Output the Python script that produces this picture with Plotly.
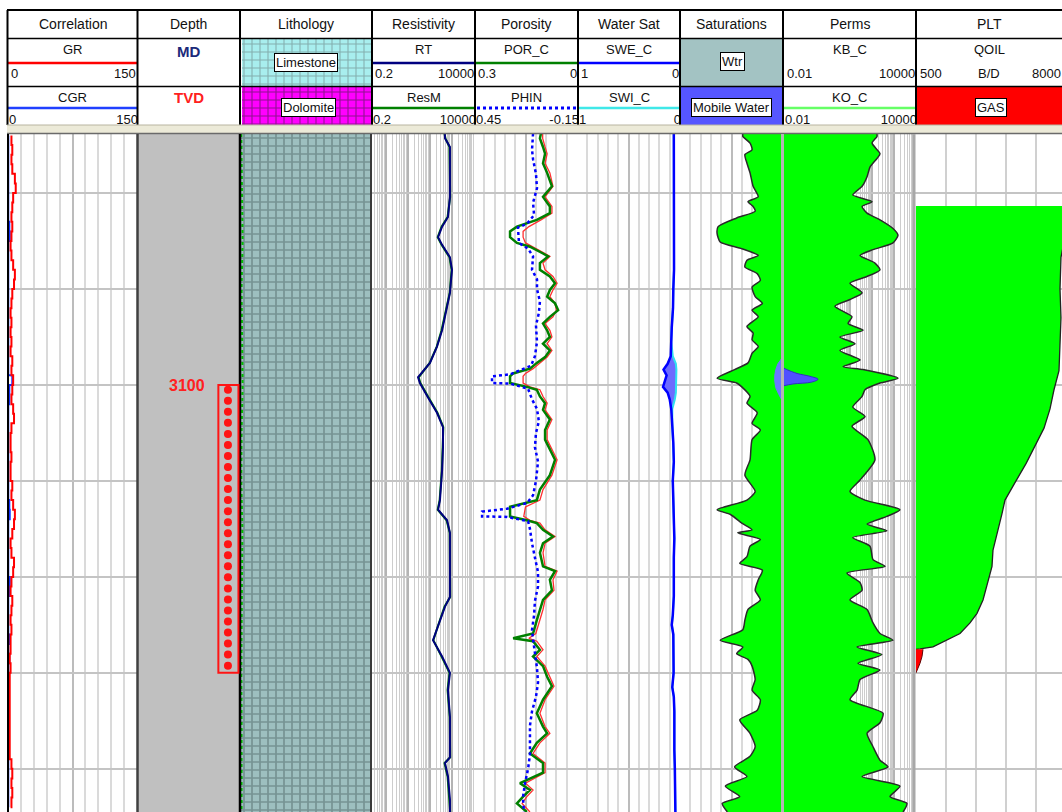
import math
import plotly.graph_objects as go

# ---------------- data (depth in m) ----------------
TOP_DEPTH = 3073.85
BASE_DEPTH = 3144.5

# Correlation track
gr_depth = list(range(3074, 3145))
gr = [4, 5, 4, 5, 8, 9, 6, 5, 4, 5,
      4, 3, 4, 6, 8, 7, 5, 4, 3, 4,
      3, 4, 3, 5, 4, 6, 5, 4, 6, 7,
      4, 3, 3, 4, 3, 3, 5, 4, 6, 8,
      7, 5, 3, 4, 7, 6, 4, 3, 5, 4,
      3, 4, 3, 3, 2, 3, 2, 2, 2, 2,
      2, 2, 2, 2, 2, 4, 5, 4, 5, 4,
      3]
cgr = [0.3, 0.3, 0.3, 0.3, 0.3, 0.3, 0.3, 0.3, 0.3, 1.5,
       2.0, 0.3, 0.3, 0.3, 0.3, 0.3, 0.3, 0.3, 0.3, 0.3,
       0.3, 0.3, 0.3, 0.3, 0.3, 5.0, 1.5, 1.5, 0.3, 0.3,
       0.3, 0.3, 0.3, 0.3, 0.3, 0.3, 0.3, 0.3, 1.5, 2.0,
       0.3, 0.3, 0.3, 0.3, 0.3, 0.3, 2.0, 1.5, 0.3, 0.3,
       0.3, 0.3, 1.5, 0.3, 1.5, 0.3, 0.3, 0.3, 0.3, 0.3,
       0.3, 0.3, 0.3, 0.3, 0.3, 0.3, 0.3, 0.3, 0.3, 0.3,
       0.3]

# Depth track: perforated interval
perf_top = 3100
perf_base = 3130
perf_shots = [3100.5, 3101.65, 3102.8, 3103.95, 3105.1, 3106.25, 3107.4, 3108.55,
              3109.7, 3110.85, 3112.0, 3113.15, 3114.3, 3115.45, 3116.6, 3117.75,
              3118.9, 3120.05, 3121.2, 3122.35, 3123.5, 3124.65, 3125.8, 3126.95,
              3128.1, 3129.25]

# Lithology track
lith_depth = [TOP_DEPTH, BASE_DEPTH]
limestone_frac = [1.0, 1.0]
lith_curve_depth = [3073.85, 3080, 3085, 3090, 3095, 3100, 3105, 3110, 3115, 3120,
                    3125, 3130, 3135, 3140, 3144.5]
lith_curve = [0.01, 0.015, 0.02, 0.012, 0.015, 0.02, 0.012, 0.01, 0.018, 0.015,
              0.012, 0.01, 0.012, 0.01, 0.012]

# Resistivity track
rt_depth = [3073.8, 3074.3, 3075.2, 3077.6, 3080.4, 3082.5, 3083.5, 3084.6, 3085.4, 3086.7,
            3088.0, 3090.4, 3091.9, 3094.3, 3096.0, 3097.7, 3099.2, 3099.8, 3101.3, 3102.9,
            3104.4, 3106.5, 3108.9, 3112.0, 3113.0, 3114.1, 3115.4, 3122.1, 3123.1, 3125.2,
            3126.6, 3128.3, 3130.0, 3131.8, 3134.6, 3138.8, 3139.4, 3140.8, 3143.2, 3144.5]
rt = [470, 475, 800, 800, 800, 650, 350, 230, 350, 800,
      990, 800, 590, 350, 205, 98, 28, 34, 80, 205,
      385, 385, 350, 280, 230, 590, 800, 800, 475, 230,
      135, 350, 800, 650, 800, 800, 475, 650, 800, 800]
resm = [450, 500, 760, 780, 820, 620, 330, 220, 330, 760,
        950, 780, 560, 330, 200, 95, 30, 36, 85, 215,
        400, 370, 340, 270, 220, 560, 780, 820, 450, 220,
        140, 330, 760, 620, 780, 820, 450, 620, 780, 820]

# Porosity track
por_depth = [3073.8, 3074.3, 3075.2, 3075.9, 3076.9, 3077.9, 3079.3, 3080.4, 3081.4, 3082.1,
             3082.8, 3083.5, 3084.0, 3084.6, 3085.2, 3085.6, 3086.3, 3086.6, 3087.3, 3088.0,
             3088.7, 3089.4, 3090.1, 3090.8, 3091.5, 3092.2, 3092.9, 3093.6, 3094.3, 3095.0,
             3095.7, 3096.4, 3097.1, 3097.7, 3098.3, 3098.8, 3099.1, 3099.8, 3100.2, 3100.5,
             3101.2, 3101.9, 3102.6, 3103.6, 3104.7, 3105.7, 3107.8, 3109.4, 3110.9, 3112.0,
             3112.7, 3113.7, 3114.1, 3114.4, 3115.1, 3115.8, 3116.5, 3117.5, 3118.9, 3119.4,
             3120.3, 3121.4, 3122.4, 3123.4, 3124.5, 3125.9, 3126.4, 3126.7, 3127.6, 3128.3,
             3129.3, 3130.4, 3131.4, 3132.8, 3134.2, 3135.6, 3136.3, 3137.3, 3138.4, 3139.4,
             3140.4, 3141.5, 3142.2, 3142.9, 3143.6, 3144.5]
por_c = [0.105, 0.108, 0.099, 0.093, 0.099, 0.087, 0.073, 0.099, 0.079, 0.079,
         0.117, 0.175, 0.195, 0.195, 0.175, 0.137, 0.099, 0.084, 0.108, 0.108,
         0.079, 0.064, 0.079, 0.087, 0.064, 0.055, 0.079, 0.099, 0.087, 0.079,
         0.099, 0.079, 0.093, 0.117, 0.137, 0.186, 0.195, 0.195, 0.146, 0.117,
         0.108, 0.093, 0.099, 0.079, 0.093, 0.093, 0.064, 0.079, 0.108, 0.117,
         0.195, 0.195, 0.146, 0.117, 0.099, 0.070, 0.099, 0.108, 0.099, 0.064,
         0.079, 0.073, 0.099, 0.108, 0.117, 0.128, 0.186, 0.128, 0.108, 0.128,
         0.099, 0.087, 0.073, 0.099, 0.117, 0.099, 0.087, 0.117, 0.137, 0.099,
         0.099, 0.166, 0.137, 0.157, 0.175, 0.146]
por_red = [0.100, 0.100, 0.093, 0.087, 0.093, 0.079, 0.070, 0.093, 0.073, 0.073,
           0.105, 0.140, 0.157, 0.157, 0.150, 0.128, 0.093, 0.079, 0.099, 0.093,
           0.070, 0.058, 0.070, 0.079, 0.064, 0.060, 0.070, 0.093, 0.079, 0.073,
           0.087, 0.073, 0.087, 0.108, 0.128, 0.150, 0.157, 0.157, 0.137, 0.108,
           0.099, 0.087, 0.093, 0.073, 0.087, 0.087, 0.058, 0.073, 0.099, 0.108,
           0.150, 0.155, 0.137, 0.108, 0.093, 0.064, 0.093, 0.099, 0.093, 0.058,
           0.070, 0.067, 0.093, 0.099, 0.108, 0.120, 0.140, 0.117, 0.099, 0.117,
           0.093, 0.079, 0.067, 0.093, 0.108, 0.093, 0.079, 0.108, 0.128, 0.093,
           0.093, 0.150, 0.128, 0.146, 0.160, 0.137]
phin_depth = [3073.8, 3075.5, 3076.5, 3078.0, 3079.5, 3081.0, 3082.3, 3083.2, 3083.6, 3085.2,
              3085.8, 3086.6, 3088.0, 3089.0, 3090.0, 3091.3, 3092.5, 3093.8, 3095.5, 3097.0,
              3098.0, 3098.9, 3099.1, 3099.8, 3099.85, 3100.4, 3101.5, 3102.5, 3103.8, 3105.0,
              3106.5, 3108.0, 3110.0, 3111.5, 3112.3, 3112.9, 3113.2, 3113.7, 3113.75, 3114.2,
              3115.0, 3116.5, 3118.0, 3119.5, 3121.0, 3122.5, 3124.0, 3125.5, 3126.5, 3128.0,
              3129.5, 3131.0, 3132.5, 3134.0, 3135.5, 3137.0, 3138.5, 3140.0, 3141.5, 3143.0,
              3144.5]
phin = [0.106, 0.112, 0.106, 0.089, 0.083, 0.106, 0.100, 0.141, 0.194, 0.188,
        0.135, 0.106, 0.112, 0.083, 0.083, 0.066, 0.072, 0.089, 0.083, 0.095,
        0.118, 0.240, 0.345, 0.345, 0.240, 0.135, 0.112, 0.083, 0.072, 0.089,
        0.095, 0.077, 0.089, 0.106, 0.141, 0.258, 0.403, 0.403, 0.258, 0.135,
        0.124, 0.112, 0.095, 0.077, 0.077, 0.095, 0.100, 0.112, 0.106, 0.095,
        0.083, 0.077, 0.089, 0.112, 0.124, 0.124, 0.124, 0.135, 0.153, 0.165,
        0.159]

# Water saturation track
sw_depth = [3073.85, 3076, 3078, 3080, 3082, 3084, 3086, 3088, 3090, 3092,
            3094, 3095.5, 3097, 3097.8, 3098.4, 3099.0, 3099.6, 3100.2, 3100.8, 3101.5,
            3102.5, 3104, 3106, 3108, 3110, 3112, 3114, 3116, 3118, 3120,
            3122, 3124, 3125, 3126, 3128, 3130, 3131.5, 3132.5, 3134, 3136,
            3138, 3140, 3142, 3144.5]
swe_c = [0.06, 0.06, 0.055, 0.06, 0.058, 0.06, 0.062, 0.058, 0.065, 0.068,
         0.08, 0.085, 0.09, 0.12, 0.16, 0.13, 0.15, 0.165, 0.12, 0.10,
         0.085, 0.075, 0.065, 0.06, 0.07, 0.065, 0.06, 0.055, 0.06, 0.058,
         0.06, 0.07, 0.08, 0.065, 0.06, 0.062, 0.075, 0.06, 0.055, 0.058,
         0.055, 0.05, 0.045, 0.045]
swi_c = [0.06, 0.06, 0.055, 0.06, 0.058, 0.06, 0.062, 0.058, 0.065, 0.068,
         0.08, 0.085, 0.07, 0.04, 0.035, 0.035, 0.035, 0.035, 0.04, 0.05,
         0.075, 0.075, 0.065, 0.06, 0.07, 0.065, 0.06, 0.055, 0.06, 0.058,
         0.06, 0.07, 0.08, 0.065, 0.06, 0.062, 0.075, 0.06, 0.055, 0.058,
         0.055, 0.05, 0.045, 0.045]

# Saturations track
SAT_EDGE = 1.0
sat_depth = [3073.85, 3074.1, 3074.8, 3075.5, 3076.0, 3076.9, 3077.9, 3079.3, 3080.4, 3080.9,
             3081.4, 3081.9, 3082.6, 3083.5, 3084.2, 3085.1, 3085.8, 3086.5, 3087.0, 3087.7,
             3088.4, 3089.1, 3089.8, 3090.8, 3091.5, 3092.2, 3092.9, 3093.9, 3094.6, 3095.3,
             3096.0, 3096.7, 3097.7, 3098.4, 3099.3, 3099.8, 3100.2, 3101.2, 3101.9, 3102.9,
             3104.0, 3104.7, 3105.7, 3107.8, 3109.4, 3111.1, 3112.0, 3113.0, 3113.5, 3114.4,
             3115.1, 3115.4, 3116.1, 3116.8, 3117.9, 3118.6, 3119.3, 3120.3, 3121.4, 3122.4,
             3123.4, 3124.5, 3125.5, 3126.6, 3127.3, 3128.0, 3128.6, 3129.3, 3130.7, 3131.8,
             3132.8, 3133.9, 3134.9, 3136.3, 3137.7, 3138.7, 3139.8, 3140.8, 3141.8, 3142.9,
             3143.6, 3144.5]
sat_curve = [0.61, 0.61, 0.68, 0.70, 0.63, 0.65, 0.68, 0.71, 0.76, 0.66,
             0.71, 0.73, 0.55, 0.37, 0.36, 0.39, 0.60, 0.76, 0.65, 0.63,
             0.75, 0.78, 0.70, 0.73, 0.80, 0.70, 0.76, 0.65, 0.71, 0.70,
             0.76, 0.70, 0.66, 0.53, 0.36, 0.55, 0.60, 0.68, 0.65, 0.75,
             0.70, 0.78, 0.70, 0.68, 0.63, 0.73, 0.65, 0.36, 0.49, 0.60,
             0.70, 0.56, 0.78, 0.68, 0.65, 0.58, 0.80, 0.76, 0.73, 0.78,
             0.66, 0.63, 0.61, 0.39, 0.61, 0.55, 0.66, 0.70, 0.73, 0.70,
             0.78, 0.75, 0.58, 0.68, 0.73, 0.68, 0.53, 0.65, 0.44, 0.58,
             0.41, 0.46]
mw_sat_depth = [3097.2, 3097.8, 3098.4, 3099.0, 3099.6, 3100.3, 3101.0, 3101.6]
mw_sat = [0.99, 0.95, 0.93, 0.92, 0.92, 0.93, 0.96, 0.99]

# Perms track (mD)
PERM_EDGE = 0.01
perm_depth = [3073.85, 3074.1, 3074.8, 3075.9, 3076.4, 3077.3, 3078.3, 3079.3, 3080.2, 3080.9,
              3081.4, 3082.1, 3082.8, 3083.7, 3084.4, 3085.2, 3085.9, 3086.5, 3087.3, 3088.0,
              3088.7, 3089.4, 3090.4, 3091.1, 3091.8, 3092.9, 3093.6, 3094.3, 3095.0, 3095.7,
              3096.4, 3097.4, 3098.1, 3098.4, 3099.3, 3099.8, 3100.5, 3101.2, 3102.3, 3103.3,
              3104.3, 3105.7, 3107.8, 3109.9, 3111.1, 3112.0, 3113.0, 3113.7, 3114.5, 3115.2,
              3115.9, 3116.8, 3118.2, 3118.9, 3119.6, 3120.6, 3121.4, 3122.4, 3123.4, 3124.8,
              3125.9, 3126.6, 3127.3, 3128.1, 3129.0, 3129.7, 3130.7, 3131.8, 3132.8, 3134.2,
              3135.2, 3136.3, 3137.7, 3139.1, 3139.8, 3140.8, 3141.8, 3142.9, 3143.6, 3144.5]
kb_c = [174, 174, 104, 238, 174, 84, 62, 37, 14, 104,
        37, 62, 238, 917, 1540, 917, 115, 30, 141, 238,
        62, 10.5, 37, 10.5, 2.2, 13, 8.6, 41, 3.7, 17.7,
        3.7, 30, 5.1, 41, 1540, 238, 50, 37, 14, 50,
        13, 68, 141, 30, 10.5, 50, 1900, 490, 62, 490,
        14, 84, 115, 400, 7.7, 30, 37, 10.5, 62, 115,
        238, 917, 22, 290, 24, 238, 30, 22, 10.5, 325,
        238, 62, 115, 238, 546, 37, 1900, 670, 3900, 2600]
mw_perm_depth = [3098.2, 3098.4, 3098.8, 3099.1, 3099.4, 3099.7, 3099.9, 3100.1]
mw_perm = [0.01, 0.015, 0.043, 0.165, 0.38, 0.20, 0.028, 0.01]

# PLT track (B/D)
qoil_depth = [3081.35, 3084.0, 3086.7, 3090.0, 3093.0, 3096.0, 3098.5, 3100.5, 3102.5, 3104.5,
              3106.5, 3108.2, 3110.0, 3112.0, 3113.4, 3115.4, 3117.2, 3118.9, 3120.7, 3122.4,
              3123.8, 3124.8, 3125.9, 3126.6, 3127.3, 3127.5, 3127.55]
qoil = [8000, 8000, 7750, 7700, 7750, 7700, 7650, 7400, 7200, 6900,
        6400, 6000, 5500, 4950, 4800, 4550, 4350, 4300, 4050, 3850,
        3550, 3200, 2700, 2050, 1350, 700, 500]
gas_depth = [3127.55, 3128.3, 3129.0, 3129.6, 3130.0]
gas = [850, 800, 700, 600, 500]

# ---------------- layout helpers ----------------
W, H = 1062, 812
LOG_TOP = 134
FONT = "Liberation Sans, Arial, sans-serif"


def fx(p):
    return p / W


def fy(p):
    return 1 - p / H


tracks = {
    "corr": (1, 8, 137),
    "depth": (2, 137, 240),
    "lith": (3, 240, 371),
    "res": (4, 371, 474),
    "por": (5, 474, 577),
    "sw": (6, 577, 680),
    "sat": (7, 680, 783),
    "perm": (8, 783, 916),
    "plt": (9, 916, 1062),
}

MAJ = "#bcbcbc"
MIN = "#dadada"


def minor(dt, width=2):
    return dict(dtick=dt, tick0=0, showgrid=True, gridcolor=MIN, gridwidth=width)


xcfg = {
    "corr": dict(range=[0, 150], dtick=75, tick0=0, minor=minor(15)),
    "depth": dict(range=[0, 1], showgrid=False),
    "lith": dict(range=[0, 1], showgrid=False),
    "res": dict(type="log", range=[math.log10(0.2), 4], dtick=1, gridcolor="#b4b4b4",
                minor=dict(dtick="D1", showgrid=True, gridcolor="#cdcdcd", gridwidth=1)),
    "por": dict(range=[0.3, 0], dtick=0.15, tick0=0, minor=minor(0.03)),
    "sw": dict(range=[1, 0], dtick=0.5, tick0=0, minor=minor(0.1)),
    "sat": dict(range=[0, 1], dtick=0.5, tick0=0, minor=minor(0.1)),
    "perm": dict(type="log", range=[-2, 4], dtick=1, gridcolor="#b4b4b4",
                 minor=dict(dtick="D1", showgrid=True, gridcolor="#cdcdcd", gridwidth=1)),
    "plt": dict(range=[500, 7800], dtick=1500, tick0=500, gridcolor="#d0d0d0"),
}

layout = {}
for key, (n, left, right) in tracks.items():
    xn = "xaxis" if n == 1 else f"xaxis{n}"
    yn = "yaxis" if n == 1 else f"yaxis{n}"
    xa = dict(domain=[fx(left), fx(right)], anchor="y" if n == 1 else f"y{n}",
              showticklabels=False, ticks="", zeroline=False, showline=False,
              gridcolor=MAJ, gridwidth=2, fixedrange=True)
    xa.update(xcfg[key])
    layout[xn] = xa
    layout[yn] = dict(domain=[0, fy(LOG_TOP)], range=[BASE_DEPTH, TOP_DEPTH],
                      anchor="x" if n == 1 else f"x{n}", showticklabels=False, ticks="",
                      zeroline=False, showline=False, dtick=10, tick0=3080,
                      showgrid=key not in ("depth", "lith"), gridcolor="#c4c4c4",
                      gridwidth=2, fixedrange=True)

# second porosity scale for PHIN
layout["xaxis10"] = dict(domain=layout["xaxis5"]["domain"], range=[0.45, -0.15],
                         overlaying="x5", anchor="y5", showgrid=False, showticklabels=False,
                         ticks="", zeroline=False, fixedrange=True)
# pixel-space axis for the header block
layout["xaxis30"] = dict(domain=[0, 1], range=[0, W], anchor="y30", visible=False, fixedrange=True)
layout["yaxis30"] = dict(domain=[0, 1], range=[H, 0], anchor="x30", visible=False, fixedrange=True)

fig = go.Figure()


def sc(ax, **kw):
    n = tracks[ax][0]
    kw.setdefault("mode", "lines")
    kw.setdefault("hoverinfo", "skip")
    fig.add_trace(go.Scatter(xaxis="x" if n == 1 else f"x{n}",
                             yaxis="y" if n == 1 else f"y{n}", showlegend=False, **kw))


# Correlation
sc("corr", x=cgr, y=gr_depth, line=dict(color="#1030ff", width=2, shape="vh"))
sc("corr", x=gr, y=gr_depth, line=dict(color="#ff0000", width=2, shape="vh"))

# Depth: perforations
sc("depth", x=[0.883] * len(perf_shots), y=perf_shots, mode="markers",
   marker=dict(color="#ff1414", size=8))

# Lithology
sc("lith", x=limestone_frac, y=lith_depth, fill="tozerox", line=dict(width=0),
   fillpattern=dict(shape="+", bgcolor="#9dbfbf", fgcolor="#4f6767", size=8, solidity=0.38))
sc("lith", x=lith_curve, y=lith_curve_depth, line=dict(color="#00c000", width=2, dash="dot"))

# Resistivity
sc("res", x=resm, y=rt_depth, line=dict(color="#008000", width=2))
sc("res", x=rt, y=rt_depth, line=dict(color="#000080", width=2))

# Porosity
sc("por", x=por_red, y=por_depth, line=dict(color="#ff3030", width=1.3))
sc("por", x=por_c, y=por_depth, line=dict(color="#008000", width=2.5))
fig.add_trace(go.Scatter(x=phin, y=phin_depth, xaxis="x10", yaxis="y5", mode="lines",
                         hoverinfo="skip", showlegend=False,
                         line=dict(color="#0000ff", width=2.5, dash="dot")))

# Water saturation
sc("sw", x=swi_c, y=sw_depth, line=dict(color="#30e0f0", width=2))
sc("sw", x=swe_c, y=sw_depth, fill="tonextx", fillcolor="#6d6bff",
   line=dict(color="#0000ff", width=2.5))

# Saturations
sc("sat", x=[SAT_EDGE, SAT_EDGE], y=[TOP_DEPTH, BASE_DEPTH], line=dict(width=0))
sc("sat", x=sat_curve, y=sat_depth, fill="tonextx", fillcolor="#00ff00",
   line=dict(color="#2a2a2a", width=1.5, shape="spline", smoothing=0.6))
sc("sat", x=[SAT_EDGE, SAT_EDGE], y=[mw_sat_depth[0], mw_sat_depth[-1]], line=dict(width=0))
sc("sat", x=mw_sat, y=mw_sat_depth, fill="tonextx", fillcolor="#6a78ff",
   line=dict(color="#6a78ff", width=1))

# Perms
sc("perm", x=[PERM_EDGE, PERM_EDGE], y=[TOP_DEPTH, BASE_DEPTH], line=dict(width=0))
sc("perm", x=kb_c, y=perm_depth, fill="tonextx", fillcolor="#00ff00",
   line=dict(color="#2a2a2a", width=1.5, shape="spline", smoothing=0.6))
sc("perm", x=[PERM_EDGE, PERM_EDGE], y=[mw_perm_depth[0], mw_perm_depth[-1]], line=dict(width=0))
sc("perm", x=mw_perm, y=mw_perm_depth, fill="tonextx", fillcolor="#5050ff",
   line=dict(color="#3030c0", width=1, shape="spline"))

# PLT
sc("plt", x=qoil, y=qoil_depth, fill="tozerox", fillcolor="#00ff00",
   line=dict(color="#222222", width=1.3))
sc("plt", x=gas, y=gas_depth, fill="tozerox", fillcolor="#ff0000",
   line=dict(color="#600000", width=1))

# ---------------- header ----------------
# lithology legend swatches
fig.add_trace(go.Scatter(x=[242, 371, 371, 242], y=[39, 39, 86, 86], xaxis="x30", yaxis="y30",
                         fill="toself", mode="lines", line=dict(width=0), hoverinfo="skip",
                         showlegend=False,
                         fillpattern=dict(shape="+", bgcolor="#a8eeee", fgcolor="#5e6e6e",
                                          size=8, solidity=0.25)))
fig.add_trace(go.Scatter(x=[242, 371, 371, 242], y=[87, 87, 125, 125], xaxis="x30", yaxis="y30",
                         fill="toself", mode="lines", line=dict(width=0), hoverinfo="skip",
                         showlegend=False,
                         fillpattern=dict(shape="+", bgcolor="#ff00ff", fgcolor="#202020",
                                          size=8, solidity=0.25)))

# scale labels of the third header row (partly hidden under the bar below)
row3_scales = [("0", 9, "middle right"), ("150", 138, "middle left"),
               ("0.2", 373, "middle right"), ("10000", 476, "middle left"),
               ("0.45", 476, "middle right"), ("-0.15", 579, "middle left"),
               ("1", 579, "middle right"), ("0", 681, "middle left"),
               ("0.01", 785, "middle right"), ("10000", 917, "middle left")]
fig.add_trace(go.Scatter(x=[s[1] for s in row3_scales], y=[121] * len(row3_scales),
                         text=[s[0] for s in row3_scales],
                         textposition=[s[2] for s in row3_scales], mode="text",
                         textfont=dict(family=FONT, size=13, color="#111111"),
                         xaxis="x30", yaxis="y30", hoverinfo="skip", showlegend=False))

shapes = []


def rect(x0, y0, x1, y1, fill, layer="above"):
    shapes.append(dict(type="rect", xref="paper", yref="paper", x0=fx(x0), x1=fx(x1),
                       y0=fy(y1), y1=fy(y0), fillcolor=fill, line=dict(width=0), layer=layer))


def line(x0, y0, x1, y1, color, width, dash=None):
    ln = dict(color=color, width=width)
    if dash:
        ln["dash"] = dash
    shapes.append(dict(type="line", xref="paper", yref="paper", x0=fx(x0), x1=fx(x1),
                       y0=fy(y0), y1=fy(y1), line=ln, layer="above"))


# depth column background
rect(138, LOG_TOP, 240, H, "#c0c0c0", layer="below")

# coloured header cells
rect(681, 39, 782, 86, "#a3c3c3")
rect(681, 87, 782, 125, "#5656ff")
rect(917, 87, W, 125, "#ff0000")

# curve samples in the header
line(8, 63, 137, 63, "#ff0000", 2.5)
line(8, 108, 137, 108, "#2040ff", 2.5)
line(372, 63, 474, 63, "#000080", 2.5)
line(372, 108, 474, 108, "#008000", 2.5)
line(475, 63, 577, 63, "#008000", 2.5)
line(477, 108, 577, 108, "#0000ff", 3, dash="dot")
line(578, 63, 680, 63, "#0000ff", 2.5)
line(578, 108, 680, 108, "#40e8e8", 2.5)
line(784, 108, 916, 108, "#66ff66", 2.5)

# header grid
line(7, 10, W, 10, "#000000", 2)
line(7, 38.5, W, 38.5, "#000000", 1.5)
line(7, 86.5, W, 86.5, "#000000", 1.5)
for xb in [7.5, 137.5, 240, 372, 475, 578, 680, 783, 916]:
    line(xb, 10, xb, 125, "#000000", 2)

# separator bar
rect(7, 125, W, 133, "#ecead8")
line(7, 125, W, 125, "#b8b4a0", 1)
line(7, 133.5, W, 133.5, "#6a6a6a", 1.5)

# track borders in the log area
line(8, LOG_TOP, 8, H, "#000000", 2)
line(137.5, LOG_TOP, 137.5, H, "#404040", 2.5)
line(240, LOG_TOP, 240, H, "#000000", 2.5)
line(371, LOG_TOP, 371, H, "#3a3a3a", 2)
line(782.5, LOG_TOP, 782.5, H, "#b4b4b4", 3)
line(914, LOG_TOP, 914, H, "#a8a8a8", 3)

# perforated interval box
shapes.append(dict(type="rect", xref="x2", yref="y2", x0=0.79, x1=0.985, y0=perf_top,
                   y1=perf_base, line=dict(color="#ff1414", width=2), layer="above"))

annotations = []


def text(t, x, y, size=13, color="#111111", xanchor="center", box=False, bold=False):
    a = dict(text=f"<b>{t}</b>" if bold else t, x=fx(x), y=fy(y), xref="paper", yref="paper",
             showarrow=False, xanchor=xanchor, yanchor="middle",
             font=dict(family=FONT, size=size, color=color))
    if box:
        a.update(bgcolor="#ffffff", bordercolor="#000000", borderwidth=1, borderpad=1)
    annotations.append(a)


titles = [("Correlation", 72.5), ("Depth", 188.5), ("Lithology", 306), ("Resistivity", 423.5),
          ("Porosity", 526.5), ("Water Sat", 629), ("Saturations", 731.5), ("Perms", 849.5),
          ("PLT", 989)]
for t, x in titles:
    text(t, x, 24, size=14)

for t, x in [("GR", 72.5), ("RT", 423.5), ("POR_C", 526.5), ("SWE_C", 629), ("KB_C", 849.5),
             ("QOIL", 989)]:
    text(t, x, 50)
for t, x in [("CGR", 72.5), ("ResM", 423.5), ("PHIN", 526.5), ("SWI_C", 629), ("KO_C", 849.5)]:
    text(t, x, 97)
text("MD", 188.5, 51, size=15, color="#1c2a7a", bold=True)
text("TVD", 188.5, 97, size=15, color="#ff2020", bold=True)

row2_scales = [("0", 9, "left"), ("150", 138, "right"), ("0.2", 373, "left"),
               ("10000", 476, "right"), ("0.3", 476, "left"), ("0", 579, "right"),
               ("1", 579, "left"), ("0", 681, "right"), ("0.01", 785, "left"),
               ("10000", 917, "right"), ("500", 918, "left"), ("B/D", 989, "center"),
               ("8000", 1030, "left")]
for t, x, anc in row2_scales:
    text(t, x, 74, xanchor=anc)

text("Limestone", 306, 63, box=True)
text("Dolomite", 308, 107, box=True)
text("Wtr", 732, 61, box=True)
text("Mobile Water", 731, 107, box=True)
text("GAS", 991, 107, box=True)

text("3100", 187, 385, size=16, color="#ff2020", bold=True)

fig.update_layout(
    width=W, height=H, margin=dict(l=0, r=0, t=0, b=0),
    paper_bgcolor="#ffffff", plot_bgcolor="rgba(0,0,0,0)",
    showlegend=False, shapes=shapes, annotations=annotations,
    **layout,
)

# the page's default body margin would shift the whole figure by 8 px
fig.write_html("out.html", config={"displayModeBar": False},
               post_script="document.body.style.margin='0';document.body.style.overflow='hidden';")
